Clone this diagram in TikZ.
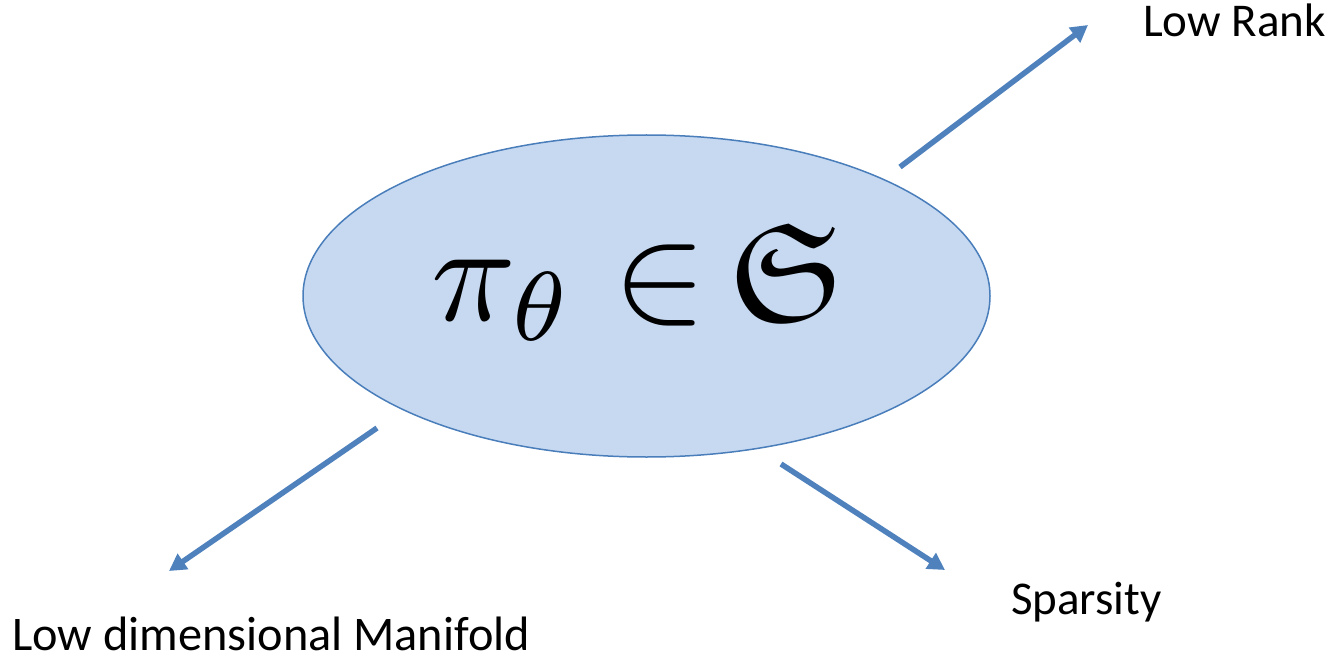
\documentclass[tikz,border=0pt]{standalone}
\usepackage{fontspec}
\setmainfont{Carlito}
\usepackage{amssymb}
\usepackage{graphicx}
\usetikzlibrary{shapes.geometric,arrows.meta}
\definecolor{arrowblue}{HTML}{4F81BD}
\definecolor{ellfill}{HTML}{C6D9F1}
\definecolor{ellline}{HTML}{4A7EBB}
\tikzset{
  bubble/.style={ellipse, draw=ellline, line width=1.5pt, fill=ellfill, inner sep=0pt},
  lbl/.style={anchor=base west, inner sep=0pt, font=\fontsize{47}{56}\selectfont},
  link/.style={draw=arrowblue, line width=5.5pt, -{Triangle[length=17pt,width=18pt]}}
}
\begin{document}
\begin{tikzpicture}[x=1pt,y=-1pt]
\useasboundingbox (0,0) rectangle (1341,663);
\node[bubble, minimum width=687pt, minimum height=322pt] (ell) at (646.5,296) {};
\node[anchor=base west, inner sep=0pt] (math) at (431,320) {\scalebox{14}{$\pi_\theta\in\mkern-2mu\mathfrak{S}$}};
\node[lbl] (lowrank) at (1143,37) {Low Rank};
\node[lbl] (sparsity) at (1011,614) {Sparsity};
\node[lbl, font=\fontsize{48.3}{56}\selectfont] (manifold) at (12,650) {Low dimensional Manifold};
\coordinate (a1s) at (900,167);
\coordinate (a1e) at (1088,25);
\coordinate (a2s) at (377,428);
\coordinate (a2e) at (169,571);
\coordinate (a3s) at (781,464);
\coordinate (a3e) at (945,570);
\draw[link] (a1s) -- (a1e);
\draw[link] (a2s) -- (a2e);
\draw[link] (a3s) -- (a3e);
\end{tikzpicture}
\end{document}
